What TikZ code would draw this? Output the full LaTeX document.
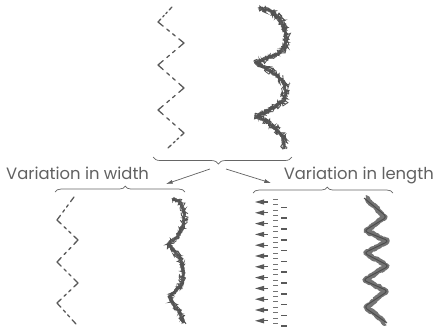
\documentclass[tikz,border=0pt]{standalone}
\usepackage{fontspec}
\setmainfont{Poppins}
\usetikzlibrary{arrows.meta, positioning, decorations.pathreplacing, decorations.pathmorphing, calc}
\tikzset{
    zigLine/.style={line width=1.1pt, draw=black!65, line cap=round},
    hairCore/.style={line width=2.4pt, draw=black!62, line join=round, decorate,
        decoration={random steps, segment length=1.2pt, amplitude=0.8pt}},
    hairFuzz/.style={line width=0.7pt, draw=black!68, decorate,
        decoration={random steps, segment length=1pt, amplitude=2.4pt}},
    groupBrace/.style={decorate, draw=black!60, semithick},
    capText/.style={font=\fontsize{14}{16}\selectfont, text=black!62, inner sep=0pt}
}
% one zigzag leg: solid corner arms with two dashes between
\newcommand{\zigleg}[2]{%
    \draw[zigLine] (#1) -- ($(#1)!.2!(#2)$) ($(#1)!.34!(#2)$) -- ($(#1)!.44!(#2)$)
        ($(#1)!.56!(#2)$) -- ($(#1)!.66!(#2)$) ($(#1)!.8!(#2)$) -- (#2);}
\newcommand{\topHair}{(259,8) -- (270,11) -- (279,18) -- (284,28) -- (286,37) -- (285,46)
    -- (279,53) -- (268,58) -- (256,63) -- (266,68) -- (276,75) -- (284,83) -- (286,92)
    -- (283,101) -- (274,107) -- (256,116) -- (266,121) -- (276,129) -- (283,137) -- (284,149)}
\newcommand{\widthHair}{(173,198) -- (181,203) -- (184,212) -- (184,224) -- (178,236)
    -- (168,244) -- (174,251) -- (181,260) -- (183,270) -- (182,284) -- (175,292)
    -- (169,297) -- (174,305) -- (180,313) -- (184,323)}

\begin{document}
\begin{tikzpicture}[x=0.03cm, y=-0.03cm, >={Latex[length=2mm, width=1.2mm]}]
    \pgfmathsetseed{11}
    \useasboundingbox (0,0) rectangle (437,333);
    % --- Original pair ---
    \foreach \xa/\ya/\xb/\yb in {172/7/158/22, 158/22/184/43, 184/43/158/65, 158/65/184/88,
        184/88/158/110, 158/110/184/133, 184/133/168/148}
        {\zigleg{\xa,\ya}{\xb,\yb}}
    \draw[hairCore] \topHair;
    \foreach \dx in {-1.2,1.2,2.6}
        {\draw[hairFuzz, xshift=\dx*0.3mm] \topHair;}
    \coordinate (topL) at (153,157); \coordinate (topR) at (292,157);
    \draw[groupBrace, decoration={brace, mirror, amplitude=6pt, aspect=0.47}] (topL) -- (topR);
    \coordinate (splitL) at (210,169); \coordinate (splitR) at (226,169);
    % --- Variation in width ---
    \node[capText, anchor=west] (widthLbl) at (6,173) {Variation in width};
    \coordinate (wL) at (55,192); \coordinate (wR) at (185,192);
    \draw[groupBrace, decoration={brace, amplitude=5pt, aspect=0.54}] (wL) -- (wR);
    \coordinate (wArrow) at (166,184);
    \draw[->, black!62, semithick] (splitL) -- (wArrow);
    \foreach \xa/\ya/\xb/\yb in {74/197/57/220, 57/220/78/240, 78/240/57/262, 57/262/78/283,
        78/283/57/303, 57/303/76/324}
        {\zigleg{\xa,\ya}{\xb,\yb}}
    \draw[hairCore] \widthHair;
    \foreach \dx in {-1,1.2}
        {\draw[hairFuzz, xshift=\dx*0.3mm] \widthHair;}
    % --- Variation in length ---
    \node[capText, anchor=east] (lengthLbl) at (434,175) {Variation in length};
    \coordinate (lL) at (253,193); \coordinate (lR) at (393,193);
    \draw[groupBrace, decoration={brace, amplitude=5pt, aspect=0.53}] (lL) -- (lR);
    \coordinate (lArrow) at (271,183);
    \draw[->, black!62, semithick] (splitR) -- (lArrow);
    \foreach \k in {0,...,11}{
        \pgfmathsetmacro{\yy}{202+10.8*\k}
        \fill[black!65] (255,\yy) -- (264,\yy-2.6) -- (264,\yy+2.6) -- cycle;
        \draw[black!65, line width=1pt] (261,\yy) -- (268,\yy);
        \draw[black!55, line width=0.8pt] (273,\yy-2.7) -- (278,\yy-2.7) (273,\yy+2.7) -- (278,\yy+2.7);
        \draw[black!65, line width=1.2pt] (281,\yy+5.4) -- (287,\yy+5.4);
    }
    \draw[hairCore, line width=4.5pt, draw=black!55] (366,198) -- (385,217) -- (366,231)
        -- (387,241) -- (366,253) -- (387,266) -- (365,280) -- (386,291) -- (366,307) -- (385,323);
    \draw[black!70, line width=0.8pt, line join=round, rounded corners=3pt] (364,198) -- (387,217) -- (364,231)
        -- (389,241) -- (364,253) -- (389,266) -- (363,280) -- (388,291) -- (364,307) -- (387,323);
\end{tikzpicture}
\end{document}
